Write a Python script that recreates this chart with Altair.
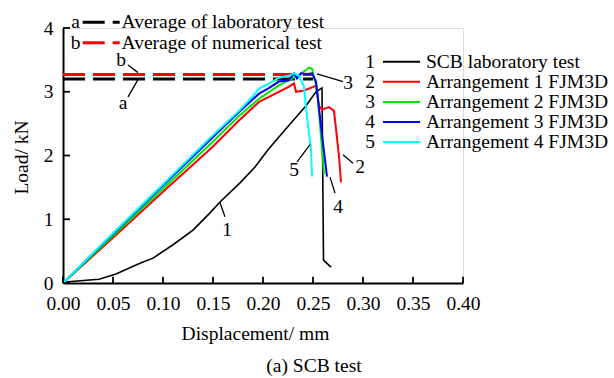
import altair as alt
import pandas as pd

FONT = "Liberation Serif"
FS = 19.5

# ---------------- data ----------------
scb_x = [0.0, 0.005, 0.036, 0.053, 0.077, 0.090, 0.110, 0.130, 0.147, 0.157, 0.177, 0.192, 0.205, 0.223, 0.243, 0.253, 0.259, 0.2605, 0.268]
scb_y = [0.0, 0.02, 0.06, 0.14, 0.31, 0.39, 0.60, 0.83, 1.10, 1.27, 1.57, 1.82, 2.09, 2.42, 2.78, 3.00, 3.06, 0.36, 0.25]

arr1_x = [0.0, 0.05, 0.10, 0.15, 0.176, 0.196, 0.206, 0.216, 0.226, 0.231, 0.233, 0.241, 0.251, 0.253, 0.256, 0.259, 0.266, 0.271, 0.276, 0.278]
arr1_y = [0.0, 0.71, 1.43, 2.14, 2.55, 2.84, 2.92, 3.00, 3.08, 3.13, 3.00, 3.02, 3.08, 3.10, 2.78, 2.72, 2.76, 2.70, 1.99, 1.58]

arr2_x = [0.0, 0.05, 0.10, 0.15, 0.176, 0.196, 0.216, 0.236, 0.246, 0.249, 0.254, 0.258, 0.261]
arr2_y = [0.0, 0.74, 1.48, 2.22, 2.62, 2.89, 3.10, 3.26, 3.38, 3.36, 3.05, 2.30, 1.71]

arr3_x = [0.0, 0.05, 0.10, 0.15, 0.176, 0.196, 0.205, 0.216, 0.226, 0.231, 0.234, 0.238, 0.244, 0.249, 0.253, 0.258, 0.264]
arr3_y = [0.0, 0.77, 1.53, 2.29, 2.68, 2.97, 3.05, 3.16, 3.18, 3.29, 3.21, 3.29, 3.28, 3.29, 3.16, 2.46, 1.67]

arr4_x = [0.0, 0.05, 0.10, 0.15, 0.176, 0.19, 0.196, 0.205, 0.216, 0.226, 0.231, 0.236, 0.241, 0.244, 0.248, 0.249]
arr4_y = [0.0, 0.78, 1.55, 2.32, 2.70, 2.93, 3.05, 3.12, 3.22, 3.25, 3.29, 3.25, 3.08, 2.60, 2.10, 1.67]

avg_lab = 3.20
avg_num = 3.27
avg_end = 0.25

x_ticks = [0.0, 0.05, 0.10, 0.15, 0.20, 0.25, 0.30, 0.35, 0.40]
y_ticks = [0, 1, 2, 3, 4]

# curve annotation labels (data coords) and leader lines
ann_text = ["a", "b", "1", "2", "3", "4", "5"]
ann_x = [0.060, 0.058, 0.164, 0.297, 0.285, 0.275, 0.231]
ann_y = [2.83, 3.50, 0.83, 1.82, 3.14, 1.19, 1.77]
lead_x1 = [0.065, 0.065, 0.157, 0.280, 0.254, 0.267, 0.234]
lead_y1 = [2.92, 3.42, 1.26, 2.01, 3.28, 1.66, 1.90]
lead_x2 = [0.075, 0.075, 0.162, 0.290, 0.280, 0.272, 0.247]
lead_y2 = [3.19, 3.30, 1.04, 1.88, 3.16, 1.41, 2.17]

# right legend
leg_num = ["1", "2", "3", "4", "5"]
leg_lab = ["SCB laboratory test", "Arrangement 1 FJM3D", "Arrangement 2 FJM3D",
           "Arrangement 3 FJM3D", "Arrangement 4 FJM3D"]
leg_col = ["#000000", "#ff0000", "#00e600", "#0000ff", "#00ffff"]
leg_y = [3.47, 3.155, 2.84, 2.525, 2.21]

# top-left legend
avg_letters = ["a", "b"]
avg_labels = ["Average of laboratory test", "Average of numerical test"]
avg_cols = ["#000000", "#ff0000"]
avg_leg_y = [4.09, 3.77]

caption = "(a) SCB test"

# ---------------- chart ----------------
xscale = alt.Scale(domain=[0, 0.4], nice=False, zero=False)
yscale = alt.Scale(domain=[0, 4], nice=False, zero=False)

xaxis = alt.Axis(values=x_ticks, format=".2f", title="Displacement/ mm", tickSize=0,
                 labelPadding=11, grid=False, domainColor="black", domainWidth=2,
                 labelFont=FONT, labelFontSize=FS, labelColor="black", labelFlush=False,
                 titleFont=FONT, titleFontSize=FS, titleFontWeight="normal", titleColor="black",
                 titleX=192, titleY=50, titleBaseline="middle", titleAlign="center")
yaxis = alt.Axis(values=y_ticks, format="d", title="Load/ kN", tickSize=0,
                 labelPadding=10, grid=False, domainColor="black", domainWidth=2,
                 labelFont=FONT, labelFontSize=FS, labelColor="black", labelFlush=False,
                 titleFont=FONT, titleFontSize=FS, titleFontWeight="normal", titleColor="black",
                 titleX=-42, titleY=129, titleBaseline="middle", titleAlign="center", titleAngle=270)


def X(f="x"):
    return alt.X(f"{f}:Q", scale=xscale, axis=xaxis)


def Y(f="y"):
    return alt.Y(f"{f}:Q", scale=yscale, axis=yaxis)


def curve(xs, ys, color, width):
    df = pd.DataFrame({"x": xs, "y": ys, "i": list(range(len(xs)))})
    return alt.Chart(df).mark_line(color=color, strokeWidth=width, clip=False).encode(
        x=X(), y=Y(), order="i:Q")


layers = []
# dashed averages
avg_df = pd.DataFrame({"x": [0.0, 0.0], "x2": [avg_end, avg_end], "y": [avg_lab, avg_num],
                       "c": ["lab", "num"]})
layers.append(alt.Chart(avg_df[avg_df.c == "lab"]).mark_rule(color="black", strokeWidth=3, strokeDash=[22, 8]).encode(
    x=X(), x2="x2:Q", y=Y()))
layers.append(alt.Chart(avg_df[avg_df.c == "num"]).mark_rule(color="#ff0000", strokeWidth=3, strokeDash=[22, 8]).encode(
    x=X(), x2="x2:Q", y=Y()))

layers.append(curve(scb_x, scb_y, "black", 1.6))
layers.append(curve(arr1_x, arr1_y, leg_col[1], 2))
layers.append(curve(arr2_x, arr2_y, leg_col[2], 2))
layers.append(curve(arr3_x, arr3_y, leg_col[3], 2))
layers.append(curve(arr4_x, arr4_y, leg_col[4], 2))

# inward ticks
xt = pd.DataFrame({"x": x_ticks, "y": [0.0] * len(x_ticks), "y2": [0.1] * len(x_ticks)})
layers.append(alt.Chart(xt).mark_rule(color="black", strokeWidth=1.8).encode(x=X(), y=Y(), y2="y2:Q"))
yt = pd.DataFrame({"y": y_ticks, "x": [0.0] * len(y_ticks), "x2": [0.007] * len(y_ticks)})
layers.append(alt.Chart(yt).mark_rule(color="black", strokeWidth=1.8).encode(x=X(), x2="x2:Q", y=Y()))

# leader lines + labels
ld = pd.DataFrame({"x": lead_x1, "y": lead_y1, "x2": lead_x2, "y2": lead_y2})
layers.append(alt.Chart(ld).mark_rule(color="black", strokeWidth=1.3).encode(x=X(), y=Y(), x2="x2:Q", y2="y2:Q"))
an = pd.DataFrame({"x": ann_x, "y": ann_y, "t": ann_text})
layers.append(alt.Chart(an).mark_text(font=FONT, fontSize=FS, color="black", align="center", baseline="middle").encode(
    x=X(), y=Y(), text="t:N"))

# right legend
lg = pd.DataFrame({"n": leg_num, "lab": leg_lab, "col": leg_col, "y": leg_y,
                   "xn": [0.307] * 5, "xs": [0.320] * 5, "xe": [0.357] * 5, "xt": [0.363] * 5})
layers.append(alt.Chart(lg).mark_text(font=FONT, fontSize=FS, color="black", align="center", baseline="middle").encode(
    x=X("xn"), y=Y(), text="n:N"))
layers.append(alt.Chart(lg).mark_rule(strokeWidth=2).encode(
    x=X("xs"), x2="xe:Q", y=Y(), color=alt.Color("col:N", scale=None)))
layers.append(alt.Chart(lg).mark_text(font=FONT, fontSize=FS, color="black", align="left", baseline="middle").encode(
    x=X("xt"), y=Y(), text="lab:N"))

# top-left legend
tl = pd.DataFrame({"n": avg_letters, "lab": avg_labels, "col": avg_cols, "y": avg_leg_y,
                   "xn": [0.0125] * 2, "xs": [0.0197] * 2, "xe": [0.0567] * 2, "xt": [0.0585] * 2})
layers.append(alt.Chart(tl).mark_text(font=FONT, fontSize=FS, color="black", align="center", baseline="middle").encode(
    x=X("xn"), y=Y(), text="n:N"))
layers.append(alt.Chart(tl).mark_rule(strokeWidth=3, strokeDash=[22, 8]).encode(
    x=X("xs"), x2="xe:Q", y=Y(), color=alt.Color("col:N", scale=None)))
layers.append(alt.Chart(tl).mark_text(font=FONT, fontSize=FS, color="black", align="left", baseline="middle").encode(
    x=X("xt"), y=Y(), text="lab:N"))

# caption
cap = pd.DataFrame({"t": [caption]})
layers.append(alt.Chart(cap).mark_text(font=FONT, fontSize=FS, color="black", align="center", baseline="middle").encode(
    x=alt.value(251), y=alt.value(338), text="t:N"))

chart = alt.layer(*layers).properties(
    width=400, height=255,
    autosize=alt.AutoSizeParams(type="none"),
    padding={"left": 63, "top": 28, "right": 151, "bottom": 95},
).configure_view(stroke=None).configure(background="white", font=FONT).configure_axis(
    labelFont=FONT, titleFont=FONT, labelFontSize=FS, titleFontSize=FS,
    labelColor="black", titleColor="black", titleFontWeight="normal"
).configure_text(font=FONT)

chart.save("out.html", embed_options={"renderer": "svg", "actions": False})
